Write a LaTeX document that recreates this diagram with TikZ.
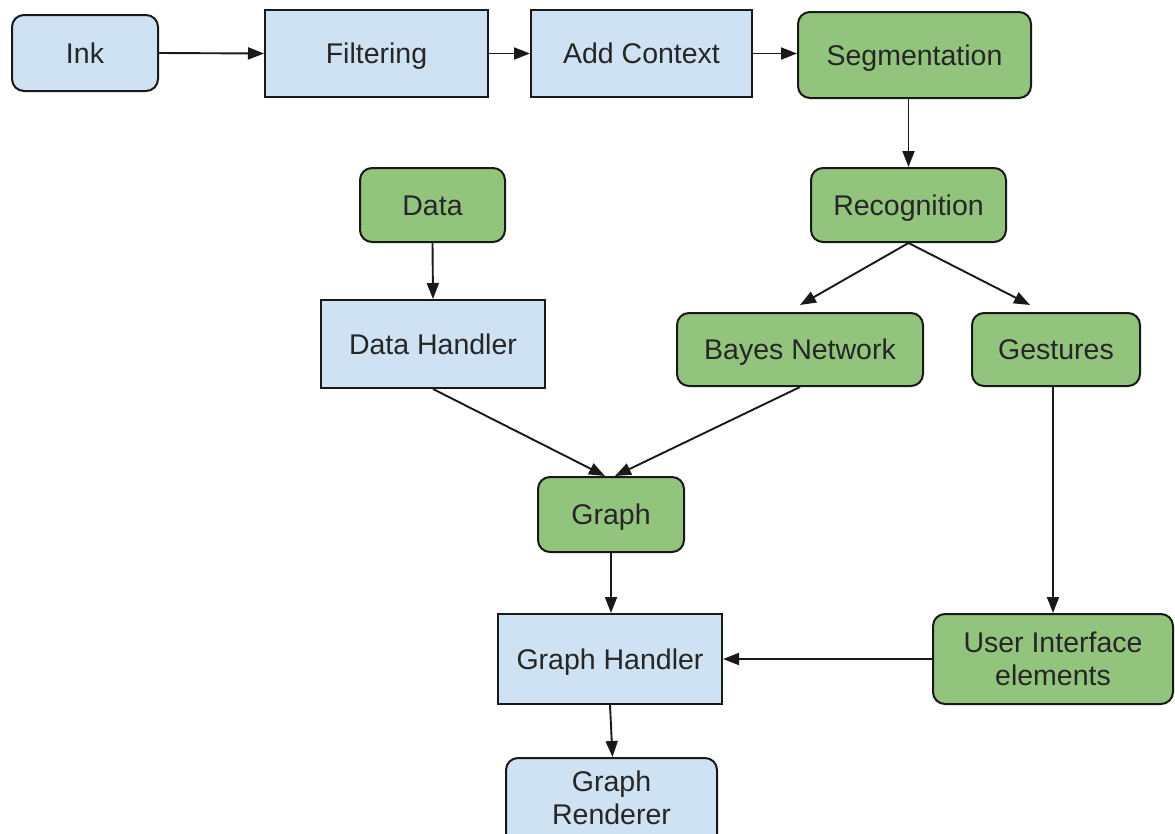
\documentclass[tikz,border=0pt]{standalone}
\usepackage{fontspec}
\setmainfont{Liberation Sans}
\usetikzlibrary{arrows.meta,calc}
\definecolor{bluefill}{HTML}{CFE2F3}
\definecolor{greenfill}{HTML}{93C47D}
\begin{document}
\begin{tikzpicture}[x=1pt,y=-1pt,
  box/.style={draw=black!90, line width=2pt, align=center, inner sep=0pt,
     font=\fontsize{28.5}{33}\selectfont, text=black!85,
     text height=20.4pt, text depth=0pt},
  twoline/.style={text height=53.4pt},
  bluebox/.style={box, fill=bluefill},
  greenbox/.style={box, fill=greenfill},
  rnd/.style={rounded corners=12pt},
  conn/.style={draw=black!90, line width=1.9pt, -{Triangle[length=16pt,width=12pt]}}]
\useasboundingbox (0,0) rectangle (1175,833);
\clip (0,0) rectangle (1175,833);
\node[bluebox,rnd,minimum width=146pt,minimum height=76pt] (ink) at (85,53) {Ink};
\node[bluebox,minimum width=223pt,minimum height=87pt] (filt) at (376.5,53.5) {Filtering};
\node[bluebox,minimum width=221pt,minimum height=87pt] (ctx) at (641.5,53.5) {Add Context};
\node[greenbox,rnd,minimum width=233pt,minimum height=86pt] (seg) at (914.5,55) {Segmentation};
\node[greenbox,rnd,minimum width=195pt,minimum height=74pt] (rec) at (908.5,205) {Recognition};
\node[greenbox,rnd,minimum width=145pt,minimum height=74pt] (data) at (432.5,205) {Data};
\node[bluebox,minimum width=224pt,minimum height=88pt] (dh) at (433,344) {Data Handler};
\node[greenbox,rnd,minimum width=246pt,minimum height=73pt] (bayes) at (800,349.5) {Bayes Network};
\node[greenbox,rnd,minimum width=168pt,minimum height=73pt] (gest) at (1056,349.5) {Gestures};
\node[greenbox,rnd,minimum width=146pt,minimum height=75pt] (graph) at (611,514.5) {Graph};
\node[bluebox,minimum width=224pt,minimum height=90pt] (gh) at (610,659) {Graph Handler};
\node[greenbox,rnd,twoline,minimum width=240pt,minimum height=90pt] (ui) at (1053,659) {User Interface\\elements};
\node[bluebox,rnd,text height=43.4pt,minimum width=211pt,minimum height=90pt] (gr) at (611.5,803) {Graph\\Renderer};
\coordinate (segs) at ($(seg.south)+(-6,0)$);
\coordinate (gests) at ($(gest.south)+(-3,0)$);
\draw[conn] (ink.east) -- (filt.west);
\draw[conn] (filt.east) -- (ctx.west);
\draw[conn] (ctx.east) -- (seg.west |- ctx.east);
\draw[conn] (segs) -- (segs |- rec.north);
\draw[conn] (rec.south) -- ($(bayes.north)+(0,-7)$);
\draw[conn] (rec.south) -- ($(gest.north)+(-26,-7)$);
\draw[conn] (data.south) -- (dh.north);
\draw[conn] (dh.south) -- ($(graph.north)+(-6,0)$);
\draw[conn] (bayes.south) -- ($(graph.north)+(4,0)$);
\draw[conn] (graph.south) -- (graph.south |- gh.north);
\draw[conn] (gests) -- (gests |- ui.north);
\draw[conn] (ui.west) -- (gh.east);
\draw[conn] (gh.south) -- ($(gr.north)+(1,0)$);
\end{tikzpicture}
\end{document}
